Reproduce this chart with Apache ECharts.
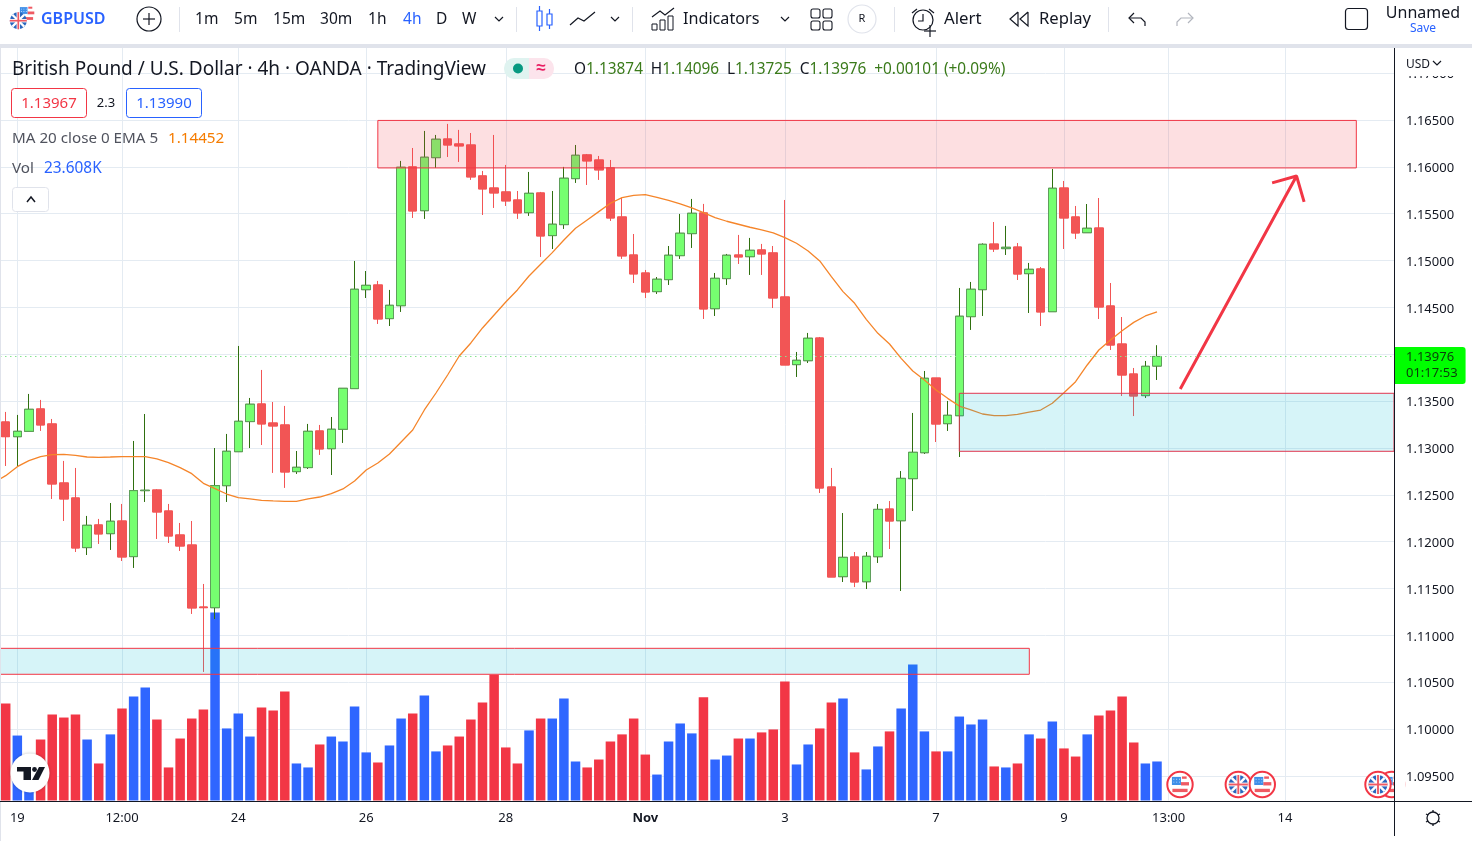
<!DOCTYPE html>
<html><head><meta charset="utf-8"><title>GBPUSD</title>
<style>html,body{margin:0;padding:0;background:#fff}#c{width:1472px;height:841px}</style>
<script src="https://cdn.jsdelivr.net/npm/echarts@6/dist/echarts.min.js"></script></head>
<body><div id="c"></div>
<script>
const opens=[1.13277,1.13120,1.13177,1.13416,1.13256,1.12626,1.12466,1.11936,1.12178,1.12085,
1.12220,1.11840,1.12544,1.12551,1.12327,1.12071,1.11964,1.11302,1.11295,1.12597,
1.12960,1.13281,1.13469,1.13266,1.13245,1.12747,1.12790,1.13181,1.12992,1.13199,
1.13633,1.14689,1.14739,1.14380,1.14518,1.15999,1.15532,1.16098,1.16297,1.16244,
1.16233,1.15903,1.15774,1.15732,1.15646,1.15511,1.15721,1.15266,1.15383,1.15874,
1.16127,1.16073,1.15988,1.15465,1.15059,1.14867,1.14668,1.14796,1.15052,1.15287,
1.15508,1.14486,1.14807,1.15059,1.15041,1.15113,1.15081,1.14611,1.13889,1.13931,
1.14173,1.12583,1.11626,1.11836,1.11572,1.11839,1.12348,1.12223,1.12672,1.12949,
1.13746,1.13259,1.13344,1.14401,1.14689,1.15176,1.15127,1.15144,1.14860,1.14910,
1.14454,1.15774,1.15465,1.15297,1.15347,1.14515,1.14109,1.13789,1.13558,1.13874];
const closes=[1.13120,1.13177,1.13412,1.13245,1.12615,1.12455,1.11932,1.12174,1.12082,1.12217,
1.11836,1.12544,1.12548,1.12316,1.12060,1.11953,1.11292,1.11295,1.12597,1.12964,
1.13284,1.13466,1.13256,1.13234,1.12743,1.12793,1.13177,1.12989,1.13199,1.13636,
1.14693,1.14735,1.14376,1.14522,1.15995,1.15529,1.16102,1.16294,1.16233,1.16223,
1.15892,1.15764,1.15721,1.15636,1.15508,1.15717,1.15262,1.15387,1.15878,1.16123,
1.16063,1.15967,1.15454,1.15049,1.14857,1.14664,1.14800,1.15056,1.15291,1.15504,
1.14483,1.14810,1.15056,1.15038,1.15109,1.15070,1.14600,1.13885,1.13935,1.14170,
1.12572,1.11622,1.11832,1.11569,1.11843,1.12344,1.12220,1.12675,1.12953,1.13743,
1.13255,1.13348,1.14405,1.14693,1.15173,1.15123,1.15141,1.14856,1.14906,1.14451,
1.15771,1.15454,1.15294,1.15344,1.14504,1.14098,1.13778,1.13554,1.13871,1.13976];
const lows=[1.12807,1.12800,1.13177,1.13181,1.12455,1.12220,1.11889,1.11857,1.11975,1.11911,
1.11793,1.11719,1.12423,1.12028,1.11985,1.11900,1.11228,1.10609,1.11174,1.12423,
1.12960,1.12999,1.13031,1.12733,1.12573,1.12722,1.12775,1.12925,1.12711,1.13053,
1.13633,1.14600,1.14323,1.14301,1.14451,1.15454,1.15444,1.15988,1.16105,1.16052,
1.15860,1.15486,1.15561,1.15582,1.15444,1.15476,1.15038,1.15123,1.15337,1.15828,
1.15806,1.15860,1.15422,1.15017,1.14760,1.14600,1.14643,1.14739,1.15017,1.15134,
1.14376,1.14408,1.14739,1.14963,1.14846,1.14846,1.14493,1.13885,1.13757,1.13906,
1.12519,1.11622,1.11569,1.11515,1.11494,1.11772,1.11921,1.11473,1.12327,1.12935,
1.13063,1.13181,1.12903,1.14259,1.14408,1.15091,1.15059,1.14792,1.14440,1.14301,
1.14454,1.15123,1.15230,1.15297,1.14376,1.14045,1.13554,1.13340,1.13533,1.13725];
const highs=[1.13384,1.13352,1.13576,1.13512,1.13309,1.12861,1.12786,1.12274,1.12242,1.12412,
1.12402,1.13074,1.13362,1.12559,1.12402,1.12199,1.12220,1.11548,1.12999,1.13149,
1.14088,1.13533,1.13832,1.13490,1.13448,1.12967,1.13256,1.13245,1.13330,1.13636,
1.14995,1.14888,1.14782,1.14686,1.16063,1.16201,1.16383,1.16340,1.16458,1.16394,
1.16361,1.15956,1.16340,1.16020,1.15742,1.15945,1.15732,1.15742,1.15999,1.16233,
1.16137,1.16116,1.16073,1.15668,1.15283,1.14899,1.14824,1.15155,1.15497,1.15657,
1.15604,1.14867,1.15070,1.15273,1.15241,1.15177,1.15155,1.15646,1.14024,1.14227,
1.14184,1.12786,1.12305,1.11889,1.11889,1.12401,1.12433,1.12753,1.13373,1.13821,
1.13746,1.13501,1.14707,1.14771,1.15183,1.15411,1.15369,1.15187,1.14974,1.14931,
1.15977,1.15849,1.15582,1.15603,1.15667,1.14760,1.14397,1.13853,1.13928,1.14096];
const emaValues=[1.12704,1.12800,1.12864,1.12907,1.12928,1.12932,1.12921,1.12903,1.12900,1.12903,
1.12907,1.12907,1.12907,1.12882,1.12843,1.12790,1.12725,1.12622,1.12565,1.12508,
1.12469,1.12455,1.12441,1.12434,1.12430,1.12430,1.12455,1.12476,1.12512,1.12562,
1.12647,1.12764,1.12839,1.12935,1.13063,1.13191,1.13405,1.13586,1.13778,1.13981,
1.14120,1.14280,1.14419,1.14557,1.14686,1.14835,1.14960,1.15084,1.15219,1.15344,
1.15433,1.15522,1.15611,1.15671,1.15696,1.15703,1.15675,1.15643,1.15604,1.15561,
1.15511,1.15458,1.15419,1.15387,1.15355,1.15326,1.15294,1.15244,1.15184,1.15102,
1.14995,1.14828,1.14668,1.14543,1.14372,1.14223,1.14109,1.13956,1.13821,1.13725,
1.13618,1.13529,1.13447,1.13405,1.13362,1.13344,1.13344,1.13358,1.13383,1.13404,
1.13476,1.13589,1.13707,1.13885,1.14045,1.14152,1.14251,1.14340,1.14408,1.14452];
const volumes=[58.7,39.3,24.2,36.9,52.1,50.2,52.1,36.9,22.4,40.0,
55.7,63.0,68.4,49.0,20.0,37.5,49.6,55.1,113.8,43.6,
52.7,38.7,56.3,54.5,66.0,22.4,20.0,33.9,38.7,35.7,
56.9,29.1,23.0,33.3,49.6,52.7,63.6,29.7,33.3,38.7,
49.0,59.3,76.1,32.1,22.4,42.4,49.6,49.6,61.7,23.6,
20.0,24.8,35.7,40.0,49.6,27.8,15.7,35.7,46.6,40.6,
62.4,24.8,27.2,37.5,37.5,41.2,43.0,72.0,21.8,33.9,
43.6,59.3,61.7,29.1,18.8,32.7,41.8,55.7,82.3,41.8,
29.7,29.7,50.8,46.0,49.0,20.6,20.0,22.4,40.0,37.5,
47.8,31.5,26.6,40.0,51.5,54.5,63.0,35.1,22.4,23.608];
const priceTicks=[1.095,1.10,1.105,1.11,1.115,1.12,1.125,1.13,1.135,1.14,1.145,1.15,1.155,1.16,1.165,1.17];
const timeTickIndex=[1,10,20,31,43,55,67,80,91,100,110];
const timeTickLabels=['19','12:00','24','26','28','Nov','3','7','9','13:00','14'];
const emaStart=[-0.49,1.12668];
const lastClose=1.13976;
const redZone=[[32,1.16495],[116.14,1.15988]];
const tealZoneUpper=[[82,1.13583],[119.38,1.12964]];
const tealZoneLower=[[-1,1.10861],[88.02,1.10584]];
const arrowPath=[[101,1.13629],[111,1.15902],[108.9,1.15828],[111,1.15902],[111.65,1.15625]];

const F='"Noto Sans",sans-serif';
const INK='#131722',BLUE='#2962ff',RED='#f23645';
const g=[];
const Z=50;
function T(x,y,text,o={}){g.push({type:'text',x,y:y+1,z:Z+2,scaleX:o.sx||1,style:{text,fill:o.c||INK,font:(o.w||'normal')+' '+(o.s||15)+'px '+F,textAlign:o.a||'left',textVerticalAlign:'middle',rich:o.rich}});}
function R(x,y,w,h,o={}){g.push({type:'rect',z:o.z||Z,shape:{x,y,width:w,height:h,r:o.r||0},style:{fill:o.f||'none',stroke:o.st||null,lineWidth:o.lw||1}});}
function PL(pts,c,lw){g.push({type:'polyline',z:Z+2,shape:{points:pts},style:{stroke:c||INK,fill:'none',lineWidth:lw||1.2}});}
function C(cx,cy,r,o={}){g.push({type:'circle',z:o.z||Z+2,shape:{cx,cy,r},style:{fill:o.f||'none',stroke:o.st||null,lineWidth:o.lw||1,shadowBlur:o.sb||0,shadowColor:'rgba(0,0,0,.25)'}});}
function L(x1,y1,x2,y2,c,lw,z){g.push({type:'line',z,shape:{x1,y1,x2,y2},style:{stroke:c,lineWidth:lw}});}
function chev(x,y,c){PL([[x-4,y-2],[x,y+2],[x+4,y-2]],c||INK,1.2);}
// flag artwork: k = radius scale, z = stacking base
function usArt(cx,cy,k,z){const p=(a,b,w,h,f)=>R(cx+a*k,cy+b*k,w*k,h*k,{f,z});
 C(cx,cy,10*k,{f:'#fff',z});
 p(2,-8.5,5,2.5,'#ef5a63');p(1,-2.5,8.5,3.5,'#ef5a63');p(-8,4.5,16,3.5,'#ef5a63');
 p(-8.5,-8,9.5,8.5,'#3f8fe8');
 [-6,-3,0].forEach(a=>[-6,-3].forEach(b=>p(a-1,b,1,1,'#cfe4ff')));}
function ukArt(cx,cy,k,z){C(cx,cy,10*k,{f:'#2a66bd',z});
 const l=(a,b,c,d,col,w)=>L(cx+a*k,cy+b*k,cx+c*k,cy+d*k,col,w*k,z);
 l(-7,-7,7,7,'#fff',2.6);l(-7,7,7,-7,'#fff',2.6);l(-10,0,10,0,'#fff',4);l(0,-10,0,10,'#fff',4);
 l(-10,0,10,0,'#ef5a63',2);l(0,-10,0,10,'#ef5a63',2);}
function eventFlag(fn,cx,cy,z){C(cx,cy,12.7,{f:'#fff',st:RED,lw:2,z});fn(cx,cy,.95,z+.5);}

// chrome bands
R(0,0,1472,44,{f:'#fff'});
R(0,44,1472,4,{f:'#e0e3eb'});
R(0,48,1,793,{f:'#e0e3eb'});
// symbol
usArt(26.7,13.5,.8,Z+2);ukArt(18.3,20.7,.85,Z+3);
T(41,18.5,'GBPUSD',{c:BLUE,s:16,w:'600',sx:1});
C(149,19,12,{st:INK,lw:1.2});
PL([[143,19],[155,19]]);PL([[149,13],[149,25]]);
[[179],[516],[632],[894],[1108]].forEach(a=>R(a[0],7,1,25,{f:'#e0e3eb'}));
[['1m',195],['5m',234],['15m',273],['30m',320],['1h',368],['4h',403],['D',436],['W',462]].forEach(a=>T(a[1],18.5,a[0],{s:16,sx:.97,c:a[0]==='4h'?BLUE:INK}));
chev(499,19);
// candle icon
R(537,11,5,15,{st:BLUE,lw:1.2});R(547,14,5,11,{st:BLUE,lw:1.2});
PL([[539.5,6],[539.5,11]],BLUE);PL([[539.5,26],[539.5,31]],BLUE);PL([[549.5,9],[549.5,14]],BLUE);PL([[549.5,25],[549.5,29]],BLUE);
PL([[570,25],[578,18],[584,21],[595,12]],INK,1.2);
chev(615,19);
// indicators icon
PL([[652,17],[660,11],[665,15],[674,8]]);
R(652,24,5,6,{st:INK,lw:1});R(660,20,5,10,{st:INK,lw:1});R(668,16,5,14,{st:INK,lw:1});
T(683,18.5,'Indicators',{s:16,sx:1.01});
chev(785,19);
[[811,9],[823,9],[811,21],[823,21]].forEach(a=>R(a[0],a[1],9,9,{st:INK,lw:1.1,r:2}));
C(862,19,14,{st:'#e0e3eb',lw:1.2});
T(862,18,'R',{s:11,a:'center'});
// alert
C(923,20,10,{st:INK,lw:1.2});PL([[923,14],[923,21],[918,21]]);PL([[912,13],[917,9]]);PL([[929,9],[934,13]]);
PL([[924,31],[936,31]]);PL([[930,25],[930,37]]);
T(944,18.5,'Alert',{s:16,sx:1.05});
PL([[1018,12],[1010,19],[1018,26],[1018,12]]);PL([[1028,12],[1020,19],[1028,26],[1028,12]]);
T(1039,18.5,'Replay',{s:16,sx:1.04});
PL([[1134,13],[1129,18],[1134,23]]);PL([[1130,18],[1141,18],[1145,22],[1145,26]]);
PL([[1188,13],[1193,18],[1188,23]],'#b2b5be');PL([[1192,18],[1181,18],[1177,22],[1177,26]],'#b2b5be');
R(1345.5,8.5,22,21,{st:INK,lw:1.2,r:3});
T(1423,12.5,'Unnamed',{s:16,a:'center',sx:1});
T(1423,28,'Save',{s:12,a:'center',c:BLUE});

// legend
T(12,68.5,'British Pound / U.S. Dollar · 4h · OANDA · TradingView',{s:19});
R(504,58,25,21,{f:'#dff3f0',r:[10,0,0,10]});
R(529,58,25,21,{f:'#fce4ec',r:[0,10,10,0]});
C(518,68.5,5,{f:'#089981'});
T(541,67,'≈',{s:17,c:'#e91e63',a:'center',w:'bold'});
T(574,68.5,'{l|O}{v|1.13874}  {l|H}{v|1.14096}  {l|L}{v|1.13725}  {l|C}{v|1.13976}  {v|+0.00101 (+0.09%)}',{s:15,rich:{l:{fill:INK,font:'15.4px '+F},v:{fill:'#3a7a1a',font:'15.4px '+F}}});
R(11.5,88.5,75,29,{st:RED,r:3,f:'#fff'});T(49,102.5,'1.13967',{c:RED,s:15,a:'center'});
T(106,102.5,'2.3',{s:13,a:'center'});
R(126.5,88.5,75,29,{st:BLUE,r:3,f:'#fff'});T(164,102.5,'1.13990',{c:BLUE,s:15,a:'center'});
T(12,138,'MA 20 close 0 EMA 5',{s:15.2,c:'#50535e'});
T(168,138,'1.14452',{s:15.2,c:'#f57c00'});
T(12,168,'Vol',{s:15.2,c:'#50535e'});
T(44,168,'23.608K',{s:15.4,c:BLUE});
R(12.5,187.5,36,24,{st:'#e0e3eb',r:3,f:'#fff'});
PL([[27,202],[31,197],[35,202]],INK,1.5);

// scale chrome
R(1395,48,77,28,{f:'#fff'});
T(1406,63.5,'USD',{s:13,sx:.92});chev(1437,63);
L(1394.5,48,1394.5,836,'#131722',1,Z+1);
L(0,801.5,1472,801.5,'#131722',1,Z+1);
// gear
C(1433,818,6,{st:INK,lw:1.3});
[[0,-8,0,-6],[0,8,0,6],[-7,-4,-5,-3],[7,-4,5,-3],[-7,4,-5,3],[7,4,5,3]].forEach(s=>PL([[1433+s[0],818+s[1]],[1433+s[2],818+s[3]]],INK,1.3));

// TradingView badge
C(30,773,19.5,{f:'#fff',sb:3});
g.push({type:'polygon',z:Z+3,shape:{points:[[17,767],[31,767],[31,780],[23.5,780],[23.5,771.5],[17,771.5]]},style:{fill:INK}});
C(34.5,769.5,2.4,{f:INK,z:Z+3});
g.push({type:'polygon',z:Z+3,shape:{points:[[39,767],[45,767],[38.5,780],[32,780]]},style:{fill:INK}});

// event flags
eventFlag(usArt,1180,784.5,Z-8);
eventFlag(ukArt,1238.3,784.5,Z-7);
eventFlag(usArt,1262.3,784.5,Z-6);
eventFlag(usArt,1391.7,784.5,Z-5);
eventFlag(ukArt,1378,784.5,Z-4);
R(1395,768,10.5,32,{f:'#fff',z:Z-2});

const idx=opens.map((_,i)=>i);
const candleData=idx.map(i=>[i,opens[i],closes[i],lows[i],highs[i]]);
const bodyData=idx.map(i=>[i,opens[i],closes[i],Math.min(opens[i],closes[i]),Math.max(opens[i],closes[i])]);
const volData=idx.map(i=>({value:[i,volumes[i]],itemStyle:{color:closes[i]>=opens[i]?'#2f66ff':'#f23645'}}));
const emaData=[emaStart].concat(idx.map(i=>[i,emaValues[i]]));
const zoneArea=(z,fill,stroke)=>[[{coord:z[0],itemStyle:{color:fill,borderColor:stroke,borderWidth:1}},{coord:z[1]}]];
const GRID='#e4ebf2';

const chart=echarts.init(document.getElementById('c'));
chart.setOption({
 animation:false,
 textStyle:{fontFamily:F},
 grid:{left:0,top:48,width:1394,height:752.5,containLabel:false},
 xAxis:{type:'value',min:-0.49,max:119.38,
  axisLine:{show:false},
  axisTick:{show:false,customValues:timeTickIndex},
  splitLine:{show:true,lineStyle:{color:GRID,width:1}},
  axisLabel:{show:true,customValues:timeTickIndex,margin:11,color:'#131722',fontSize:13,fontFamily:F,
    formatter:v=>{const s=timeTickLabels[timeTickIndex.indexOf(Math.round(v))]||'';return s==='Nov'?'{b|Nov}':s;},
    rich:{b:{fontWeight:'bold',fontSize:13,fontFamily:F,color:'#131722'}}}
 },
 yAxis:[
  {type:'value',position:'right',min:1.09237,max:1.17268,scale:true,
   axisLine:{show:false},
   axisTick:{show:false,customValues:priceTicks},
   splitLine:{show:true,lineStyle:{color:GRID,width:1}},
   axisLabel:{show:true,customValues:priceTicks,margin:12,color:'#131722',fontSize:13,fontFamily:F,
     formatter:v=>'{p|'+v.toFixed(5)+'}',
     rich:{p:{color:'#131722',fontSize:13,fontFamily:F,padding:[3,0,0,0]}}}},
  {type:'value',position:'right',min:0,max:455.3,show:false,splitLine:{show:false}}
 ],
 series:[
  {name:'Vol',type:'bar',xAxisIndex:0,yAxisIndex:1,z:2,barWidth:9.5,data:volData},
  {name:'Wicks',type:'candlestick',z:3,barWidth:9,data:candleData,
   itemStyle:{color:'#76ff70',color0:'#f25555',borderColor:'#2f6f0f',borderColor0:'#f25555',borderWidth:1},
   markLine:{symbol:'none',silent:true,z:8,animation:false,
    lineStyle:{color:'#86e58e',type:[1.5,3.5],width:1},
    label:{position:'end',distance:0,offset:[0,9],formatter:lastClose.toFixed(5)+'\n01:17:53',
      color:'#0b3d0b',fontSize:13,fontFamily:F,lineHeight:16,backgroundColor:'#00ff00',padding:[3,8,2,12],borderRadius:[0,3,3,0]},
    data:[[{coord:[-0.49,lastClose]},{coord:[119.38,lastClose]}]]}},
  {name:'Bodies',type:'candlestick',z:3,barWidth:9,data:bodyData,
   itemStyle:{color:'#76ff70',color0:'#f25555',borderColor:'#5f9f5c',borderColor0:'#f25555',borderWidth:1}},
  {name:'MA 20 close 0 EMA 5',type:'line',z:4,data:emaData,showSymbol:false,lineStyle:{color:'#f5852a',width:1.3}},
  {name:'Arrow',type:'line',z:7,data:arrowPath,showSymbol:false,lineStyle:{color:'#f23645',width:3}},
  {name:'Zones',type:'line',z:6,data:[],
   markArea:{silent:true,z:6,animation:false,data:[
     ...zoneArea(redZone,'rgba(242,54,69,0.16)','#f23645'),
     ...zoneArea(tealZoneUpper,'rgba(0,188,212,0.16)','#e0364f'),
     ...zoneArea(tealZoneLower,'rgba(0,188,212,0.16)','#f23645')]}}
 ],
 graphic:{elements:g}
});
</script></body></html>
